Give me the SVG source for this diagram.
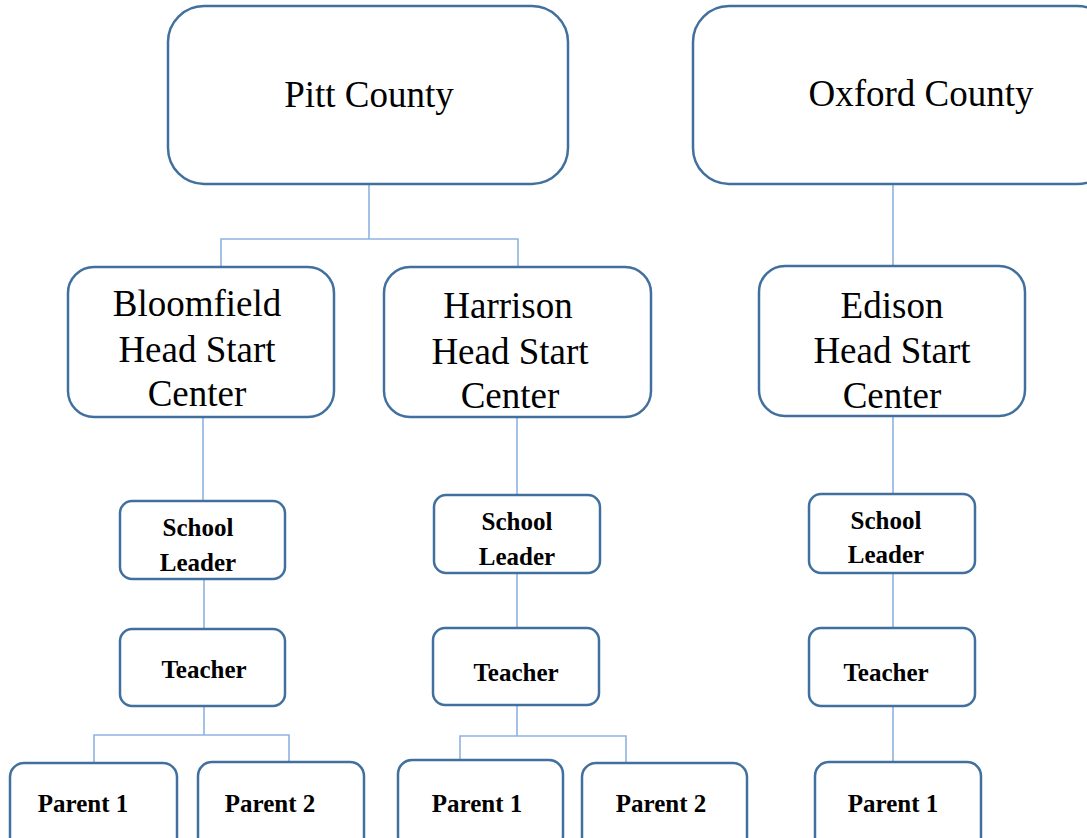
<svg xmlns="http://www.w3.org/2000/svg" width="1087" height="838" viewBox="0 0 1087 838">
<style>
.box{fill:#fff;stroke:#41709f;stroke-width:2.5}
.con{fill:none;stroke:#8db3e0;stroke-width:1.6}
text{font-family:'Liberation Serif','Tinos','DejaVu Serif',serif;fill:#000;text-anchor:middle}
.big{font-size:37px}
.sm{font-size:25px;font-weight:bold}
</style>
<rect width="1087" height="838" fill="#fff"/>
<g id="connectors">
<path class="con" d="M369 184V239M221 267V239H518V267"/>
<path class="con" d="M893 184V266"/>
<path class="con" d="M203 417V501M204 579V629M204 706V735M94 763V735H289V763"/>
<path class="con" d="M517 417V495M517 573V628M517 705V736M460 760V736H626V763"/>
<path class="con" d="M893 416V494M893 573V628M893 706V762"/>
</g>
<g id="pitt"><rect class="box" x="168" y="6" width="400" height="178" rx="36"/><text class="big" x="369" y="107">Pitt County</text></g>
<g id="oxford"><rect class="box" x="693" y="6" width="420" height="178" rx="36"/><text class="big" x="921" y="106">Oxford County</text></g>
<g id="bloomfield"><rect class="box" x="68" y="267" width="266" height="150" rx="26"/><text class="big" x="197" y="316">Bloomfield</text><text class="big" x="197" y="362">Head Start</text><text class="big" x="197" y="406">Center</text></g>
<g id="harrison"><rect class="box" x="384" y="267" width="267" height="150" rx="26"/><text class="big" x="508" y="318">Harrison</text><text class="big" x="510" y="364">Head Start</text><text class="big" x="510" y="408">Center</text></g>
<g id="edison"><rect class="box" x="759" y="266" width="266" height="150" rx="26"/><text class="big" x="892" y="318">Edison</text><text class="big" x="892" y="363">Head Start</text><text class="big" x="892" y="408">Center</text></g>
<g id="leader1"><rect class="box" x="120" y="501" width="165" height="78" rx="12"/><text class="sm" x="198" y="536">School</text><text class="sm" x="198" y="571">Leader</text></g>
<g id="leader2"><rect class="box" x="434" y="495" width="166" height="78" rx="12"/><text class="sm" x="517" y="530">School</text><text class="sm" x="517" y="565">Leader</text></g>
<g id="leader3"><rect class="box" x="809" y="494" width="166" height="79" rx="12"/><text class="sm" x="886" y="529">School</text><text class="sm" x="886" y="563">Leader</text></g>
<g id="teacher1"><rect class="box" x="120" y="629" width="165" height="77" rx="12"/><text class="sm" x="204" y="678">Teacher</text></g>
<g id="teacher2"><rect class="box" x="433" y="628" width="166" height="77" rx="12"/><text class="sm" x="516" y="681">Teacher</text></g>
<g id="teacher3"><rect class="box" x="809" y="628" width="166" height="78" rx="12"/><text class="sm" x="886" y="681">Teacher</text></g>
<g id="parent1a"><rect class="box" x="10" y="763" width="167" height="90" rx="14"/><text class="sm" x="83" y="812">Parent  1</text></g>
<g id="parent2a"><rect class="box" x="198" y="762" width="166" height="90" rx="14"/><text class="sm" x="270" y="812">Parent  2</text></g>
<g id="parent1b"><rect class="box" x="398" y="760" width="165" height="90" rx="14"/><text class="sm" x="477" y="812">Parent  1</text></g>
<g id="parent2b"><rect class="box" x="582" y="763" width="165" height="90" rx="14"/><text class="sm" x="661" y="812">Parent  2</text></g>
<g id="parent1c"><rect class="box" x="815" y="762" width="166" height="90" rx="14"/><text class="sm" x="893" y="812">Parent  1</text></g>
</svg>
